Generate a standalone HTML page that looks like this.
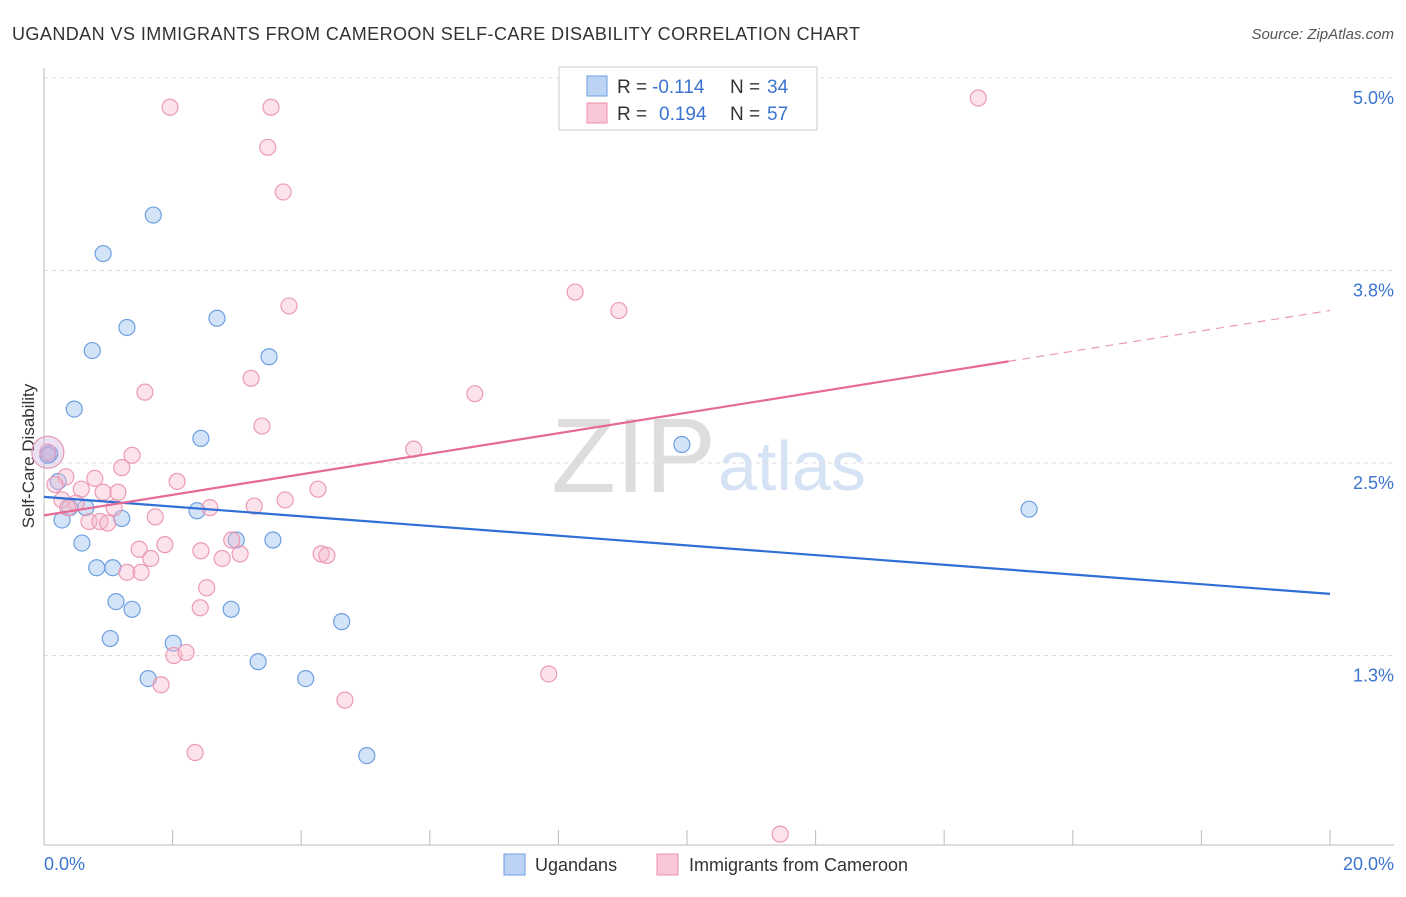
<!DOCTYPE html>
<html><head><meta charset="utf-8"><style>
body{margin:0;background:#fff;font-family:"Liberation Sans",sans-serif}
svg text{font-family:"Liberation Sans",sans-serif}
</style></head><body>
<svg id="chart" width="1406" height="892">
<text x="12" y="40" font-size="18" fill="#333" textLength="848">UGANDAN VS IMMIGRANTS FROM CAMEROON SELF-CARE DISABILITY CORRELATION CHART</text>
<text x="1394" y="39" font-size="15" fill="#555" font-style="italic" text-anchor="end">Source: ZipAtlas.com</text>
<text x="716" y="492" font-size="106" fill="#ddd" font-family="Liberation Serif" text-anchor="end">ZIP</text>
<text x="718" y="490" font-size="70" fill="#d5e3f5">atlas</text>
<g id="grid"></g>
<line x1="44" y1="68" x2="44" y2="845" stroke="#bbb"/>
<line x1="44" y1="845" x2="1394" y2="845" stroke="#bbb"/>
<text transform="translate(34,456) rotate(-90)" font-size="17" fill="#333" text-anchor="middle">Self-Care Disability</text>
<text x="44" y="870" font-size="18" fill="#3b74d0">0.0%</text>
<text x="1394" y="870" font-size="18" fill="#3b74d0" text-anchor="end">20.0%</text>
<g id="pts"></g>
<g id="lines"></g>
<rect x="559" y="67" width="258" height="63" fill="#fff" stroke="#ccc"/>
<rect x="587" y="76" width="20" height="20" fill="#bcd3f5" stroke="#6e9fe0"/>
<rect x="587" y="103" width="20" height="20" fill="#f9c7d6" stroke="#ec8fab"/>
<g font-size="19">
<text x="617" y="93" fill="#333">R =</text><text x="652" y="93" fill="#3b74d0">-0.114</text><text x="730" y="93" fill="#333">N =</text><text x="767" y="93" fill="#3b74d0">34</text></g>
<g font-size="19">
<text x="617" y="120" fill="#333">R =</text><text x="659" y="120" fill="#3b74d0">0.194</text><text x="730" y="120" fill="#333">N =</text><text x="767" y="120" fill="#3b74d0">57</text></g>
<rect x="504" y="854" width="21" height="21" fill="#bcd3f5" stroke="#6e9fe0"/>
<text x="535" y="871" font-size="18" fill="#333">Ugandans</text>
<rect x="657" y="854" width="21" height="21" fill="#f9c7d6" stroke="#ec8fab"/>
<text x="689" y="871" font-size="18" fill="#333">Immigrants from Cameroon</text>
</svg>
<script>
const yTicks=[1.25,2.5,3.75,5.0];
const yTickLabels=["1.3%","2.5%","3.8%","5.0%"];
const xTicks=[0,2,4,6,8,10,12,14,16,18,20];
const blueX=[1.70,0.92,1.29,0.75,2.69,3.50,0.47,2.44,9.92,0.09,0.22,0.40,0.65,0.28,1.21,2.38,0.59,2.99,3.56,0.82,1.07,1.12,1.37,2.91,4.63,1.03,2.01,3.33,1.62,4.07,5.02,15.32,0.06];
const blueY=[4.11,3.86,3.38,3.23,3.44,3.19,2.85,2.66,2.62,2.56,2.38,2.21,2.21,2.13,2.14,2.19,1.98,2.00,2.00,1.82,1.82,1.60,1.55,1.55,1.47,1.36,1.33,1.21,1.10,1.10,0.60,2.20,2.55];
const pinkX=[1.96,3.53,3.48,3.72,14.53,3.81,8.26,8.94,3.22,1.57,6.70,3.39,5.75,1.37,1.21,0.34,0.79,2.07,0.58,4.26,0.92,1.15,0.28,0.50,3.75,0.37,1.09,2.58,3.27,1.73,0.70,0.87,0.99,1.88,1.48,2.44,2.92,3.05,2.77,4.31,4.40,1.66,1.29,1.51,2.53,2.43,2.02,2.21,7.85,1.82,4.68,2.35,11.45,0.06,0.17];
const pinkY=[4.81,4.81,4.55,4.26,4.87,3.52,3.61,3.49,3.05,2.96,2.95,2.74,2.59,2.55,2.47,2.41,2.40,2.38,2.33,2.33,2.31,2.31,2.26,2.24,2.26,2.21,2.21,2.21,2.22,2.15,2.12,2.12,2.11,1.97,1.94,1.93,2.00,1.91,1.88,1.91,1.90,1.88,1.79,1.79,1.69,1.56,1.25,1.27,1.13,1.06,0.96,0.62,0.09,2.57,2.36];
const blueLine=[[0,2.28],[20,1.65]];
const pinkLine=[[0,2.16],[15,3.16],[20,3.49]];
const X=v=>44+v*64.3, Y=v=>463-(v-2.5)*154;
const NS="http://www.w3.org/2000/svg";
function mk(t,a,p){const e=document.createElementNS(NS,t);for(const k in a)e.setAttribute(k,a[k]);p.appendChild(e);return e;}
const grid=document.getElementById('grid'),pts=document.getElementById('pts'),lines=document.getElementById('lines');
yTicks.forEach((v,i)=>{
 const l=mk('line',{x1:44,x2:1394,y1:Y(v),y2:Y(v),stroke:'#ddd','stroke-dasharray':'4,4'},grid);
 
 
 const t=mk('text',{x:1394,y:Y(v)+26,'font-size':18,fill:'#3b74d0','text-anchor':'end'},grid);
 t.textContent=yTickLabels[i];
 
 
});
xTicks.forEach(v=>{
 const l=mk('line',{x1:X(v),x2:X(v),y1:830,y2:845,stroke:'#bbb'},grid);
 
 
});
blueX.forEach((v,i)=>{
 const c=mk('circle',{cx:X(v),cy:Y(blueY[i]),r:8,fill:'rgba(160,195,240,0.45)',stroke:'#6e9fe0','stroke-width':1.2},pts);
 
 
});
pinkX.forEach((v,i)=>{
 const c=mk('circle',{cx:X(v),cy:Y(pinkY[i]),r:8,fill:'rgba(248,185,205,0.4)',stroke:'#ec9ab3','stroke-width':1.2},pts);
 
 
});
const big=mk('circle',{cx:X(0.06),cy:Y(2.57),r:16,fill:'rgba(200,170,220,0.35)',stroke:'#e59ab8','stroke-width':1.2},pts);


const bl=mk('line',{x1:X(blueLine[0][0]),y1:Y(blueLine[0][1]),x2:X(blueLine[1][0]),y2:Y(blueLine[1][1]),stroke:'#2f6fd6','stroke-width':2.2},lines);


const pl=mk('line',{x1:X(pinkLine[0][0]),y1:Y(pinkLine[0][1]),x2:X(pinkLine[1][0]),y2:Y(pinkLine[1][1]),stroke:'#e56b95','stroke-width':2.2},lines);


const pd=mk('line',{x1:X(pinkLine[1][0]),y1:Y(pinkLine[1][1]),x2:X(pinkLine[2][0]),y2:Y(pinkLine[2][1]),stroke:'#e99ab5','stroke-width':1.2,'stroke-dasharray':'8,6'},lines);


</script>
</body></html>
